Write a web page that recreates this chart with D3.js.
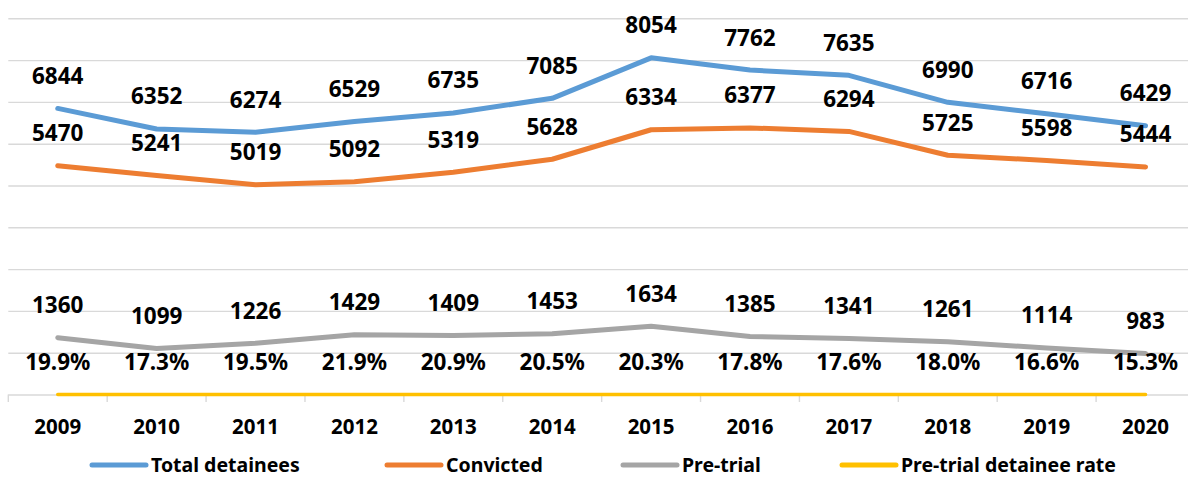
<!DOCTYPE html>
<html>
<head>
<meta charset="utf-8">
<script src="https://cdn.jsdelivr.net/npm/d3@7"></script>
<style>
	body { margin: 0; background: #fff; }
	svg { display: block; font-family: "Noto Sans", "Open Sans", sans-serif; font-weight: 700; }
</style>
</head>
<body>
<svg id="chart" width="1188" height="477"></svg>
<script>

var years = ["2009", "2010", "2011", "2012", "2013", "2014", "2015", "2016", "2017", "2018", "2019", "2020"];
var totalDetainees = [6844, 6352, 6274, 6529, 6735, 7085, 8054, 7762, 7635, 6990, 6716, 6429];
var convicted = [5470, 5241, 5019, 5092, 5319, 5628, 6334, 6377, 6294, 5725, 5598, 5444];
var preTrial = [1360, 1099, 1226, 1429, 1409, 1453, 1634, 1385, 1341, 1261, 1114, 983];
var preTrialRate = [0.199, 0.173, 0.195, 0.219, 0.209, 0.205, 0.203, 0.178, 0.176, 0.180, 0.166, 0.153];
var yTicks = [0, 1000, 2000, 3000, 4000, 5000, 6000, 7000, 8000, 9000];

var series = [
	{ name: "Total detainees", values: totalDetainees, color: "#5B9BD5", width: 5, fmt: d3.format("d") },
	{ name: "Convicted", values: convicted, color: "#ED7D31", width: 5, fmt: d3.format("d") },
	{ name: "Pre-trial", values: preTrial, color: "#A5A5A5", width: 5, fmt: d3.format("d") },
	{ name: "Pre-trial detainee rate", values: preTrialRate, color: "#FFC000", width: 3.5, fmt: d3.format(".1%") }
];

var svg = d3.select("#chart");

var plotLeft = 8.3, plotRight = 1195; // plot runs a bit past the right edge, like the original
var plotTop = 18.3, plotBottom = 394.5;

var xScale = d3.scaleBand()
	.domain(years)
	.range([plotLeft, plotRight]);

var xPos = d => xScale(d) + xScale.bandwidth() / 2;

var yScale = d3.scaleLinear()
	.domain([0, 9000])
	.range([plotBottom, plotTop]);

// gridlines
svg.append("g")
	.attr("class", "grid")
	.attr("transform", "translate(" + plotLeft + ",0)")
	.call(d3.axisLeft(yScale).tickValues(yTicks).tickSize(-(plotRight - plotLeft)).tickFormat(""))
	.call(g => g.select(".domain").remove())
	.call(g => g.selectAll(".tick line").attr("stroke", "#d9d9d9").attr("stroke-width", 1.4));

// category axis: ticks sit between categories
var edges = years.map(d => xScale(d)).concat([plotRight]);

svg.append("g")
	.attr("class", "xTicks")
	.selectAll("line")
	.data(edges)
	.enter()
	.append("line")
	.attr("x1", d => d)
	.attr("x2", d => d)
	.attr("y1", plotBottom)
	.attr("y2", plotBottom + 7.5)
	.attr("stroke", "#d9d9d9")
	.attr("stroke-width", 1.4);

svg.append("g")
	.attr("class", "xAxis")
	.attr("transform", "translate(0," + plotBottom + ")")
	.call(d3.axisBottom(xScale).tickSize(0).tickPadding(0))
	.call(g => g.select(".domain").remove())
	.call(g => g.selectAll("text")
		.attr("y", 39.5)
		.attr("dy", null)
		.attr("fill", "#000")
		.style("font-family", "\"Noto Sans\", sans-serif")
		.style("font-weight", 700)
		.style("font-size", "20.5px"));

// lines
var line = d3.line()
	.x((d, i) => xPos(years[i]))
	.y(d => yScale(d));

svg.append("g")
	.attr("class", "lines")
	.selectAll("path")
	.data(series)
	.enter()
	.append("path")
	.attr("d", d => line(d.values))
	.attr("fill", "none")
	.attr("stroke", d => d.color)
	.attr("stroke-width", d => d.width)
	.attr("stroke-linecap", "round")
	.attr("stroke-linejoin", "round");

// data labels, all sitting above their point
series.forEach(function(s) {

	svg.append("g")
		.attr("class", "labels")
		.selectAll("text")
		.data(s.values)
		.enter()
		.append("text")
		.attr("x", (d, i) => xPos(years[i]))
		.attr("y", d => yScale(d) - 24.5)
		.attr("text-anchor", "middle")
		.attr("font-size", 22.5)
		.attr("fill", "#000")
		.text(d => s.fmt(d));

});

// legend
var legendX = [92, 387, 623, 842];

var legend = svg.append("g")
	.attr("class", "legend")
	.selectAll("g")
	.data(series)
	.enter()
	.append("g")
	.attr("transform", (d, i) => "translate(" + legendX[i] + ",465)");

legend.append("line")
	.attr("x1", 0)
	.attr("x2", 54)
	.attr("stroke", d => d.color)
	.attr("stroke-width", 5)
	.attr("stroke-linecap", "round");

legend.append("text")
	.attr("x", 59)
	.attr("y", 6.5)
	.attr("font-size", 19.5)
	.attr("fill", "#000")
	.text(d => d.name);

</script>
</body>
</html>
